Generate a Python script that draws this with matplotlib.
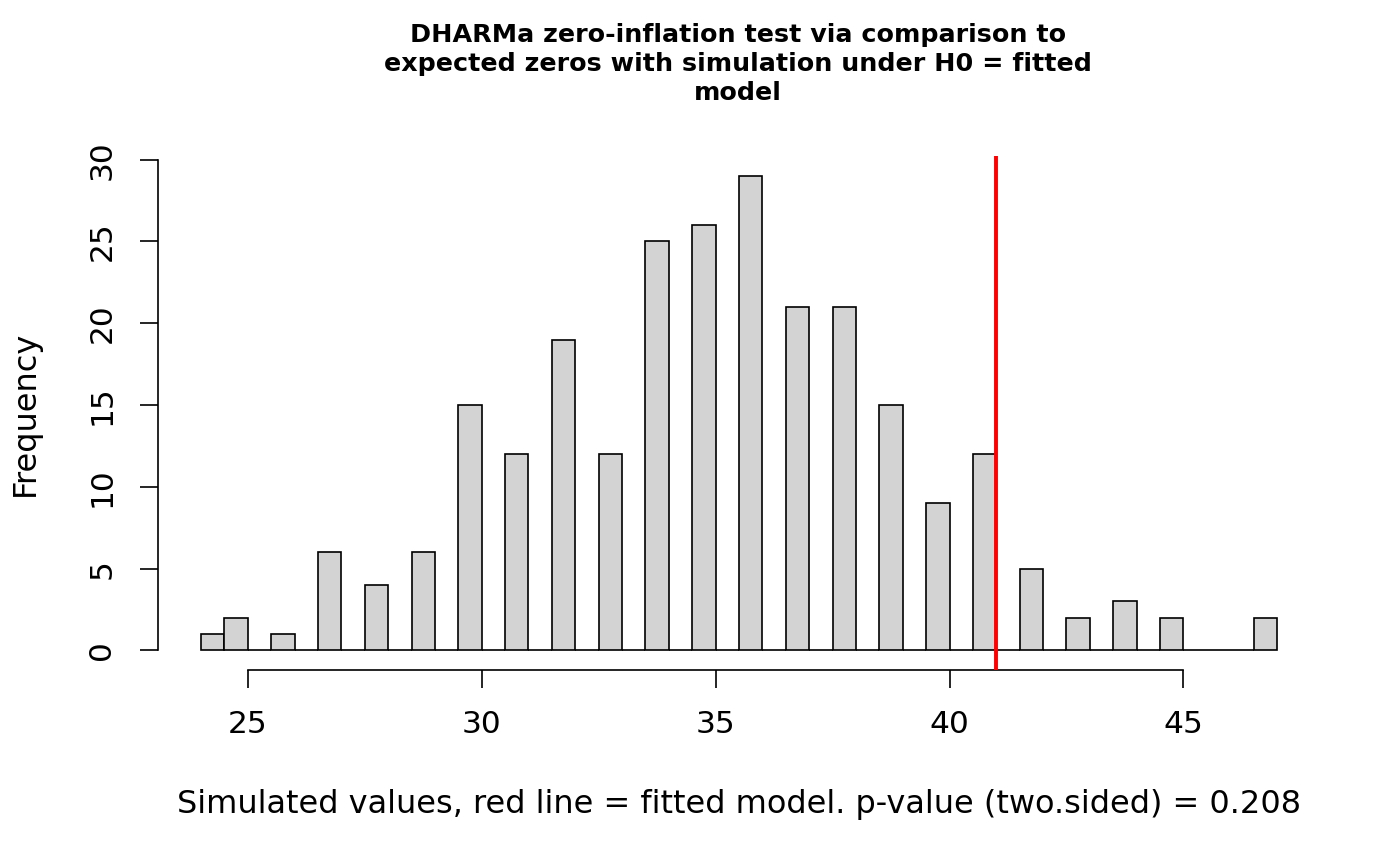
import numpy as np
import matplotlib
matplotlib.use('Agg')
import matplotlib.pyplot as plt

# simulated zero counts (value -> how many simulations)
sim_values = [24, 25, 26, 27, 28, 29, 30, 31, 32, 33, 34, 35, 36, 37, 38, 39, 40, 41, 42, 43, 44, 45, 47]
sim_counts = [1, 2, 1, 6, 4, 6, 15, 12, 19, 12, 25, 26, 29, 21, 21, 15, 9, 12, 5, 2, 3, 2, 2]
observed = 41

x_ticks = [25, 30, 35, 40, 45]
y_ticks = [0, 5, 10, 15, 20, 25, 30]

title = ("DHARMa zero-inflation test via comparison to\n"
         "expected zeros with simulation under H0 = fitted\n"
         "model")
xlab = "Simulated values, red line = fitted model. p-value (two.sided) = 0.208"

# R style breaks: 0.5 wide, right closed, lowest included
edges = np.arange(24, 47.01, 0.5)
heights = np.zeros(len(edges) - 1)
for v, c in zip(sim_values, sim_counts):
    k = 0 if v == edges[0] else int(round((v - edges[0]) * 2)) - 1
    heights[k] += c

plt.rcParams['font.family'] = ['DejaVu Sans']

fig = plt.figure(figsize=(14, 8.66), dpi=100)
ax = fig.add_axes([158 / 1400, 1 - 670 / 866, (1320 - 158) / 1400, (670 - 140) / 866])

ax.bar(edges[:-1], heights, width=0.5, align='edge', color='#d3d3d3',
       edgecolor='black', linewidth=1.2)

ax.plot([observed, observed], [-1.2, 30.2], color='red', linewidth=2.8,
        solid_capstyle='butt', clip_on=False, zorder=5)

ax.set_xlim(23.08, 47.92)
ax.set_ylim(-1.2, 31.2)
ax.set_xticks(x_ticks)
ax.set_yticks(y_ticks)
ax.set_yticklabels([str(t) for t in y_ticks], rotation=90, va='center')

for s in ['top', 'right']:
    ax.spines[s].set_visible(False)
ax.spines['left'].set_bounds(0, 30)
ax.spines['bottom'].set_bounds(25, 45)
for s in ['left', 'bottom']:
    ax.spines[s].set_linewidth(1.2)

ax.tick_params(axis='both', length=13, width=1.2, labelsize=22.5)
ax.tick_params(axis='x', pad=16)
ax.tick_params(axis='y', pad=17)

fig.text(738 / 1400, 1 - 64 / 866, title, fontsize=18.3, fontweight='bold',
         ha='center', va='center', linespacing=1.27)
fig.text(739 / 1400, 1 - 805 / 866, xlab, fontsize=23, ha='center', va='center')
fig.text(25 / 1400, 1 - 413 / 866, 'Frequency', fontsize=23, rotation=90,
         ha='center', va='center')

fig.savefig('out.png', dpi=100)
